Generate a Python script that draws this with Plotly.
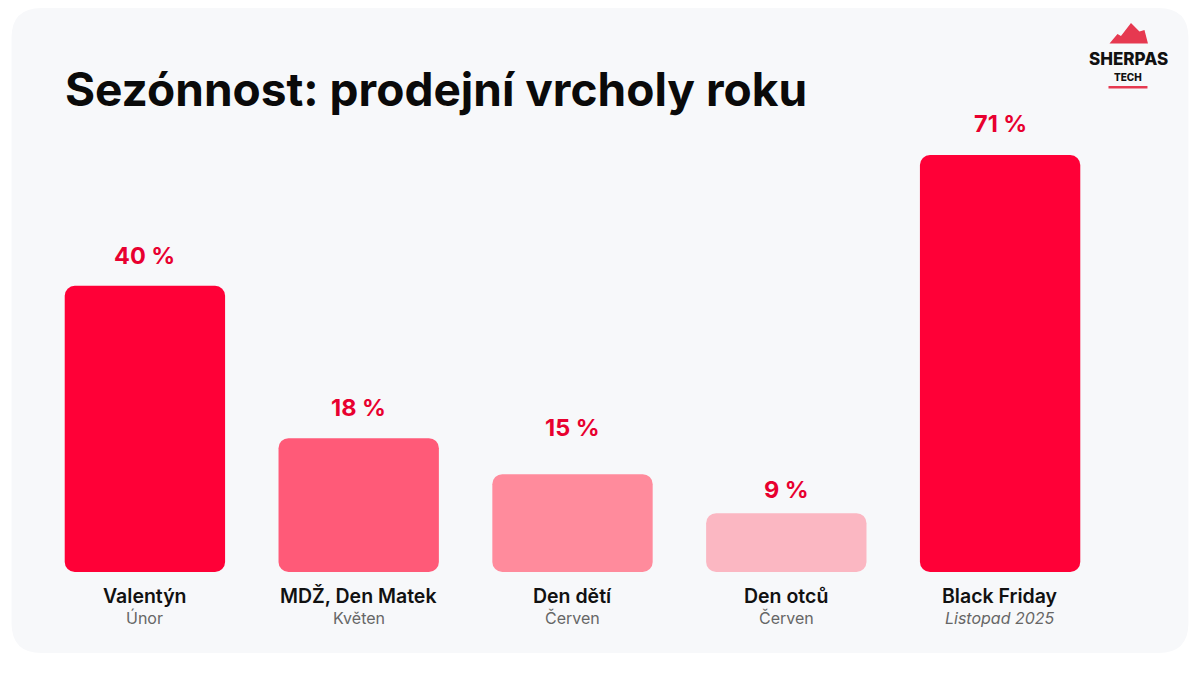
import plotly.graph_objects as go

categories = ["Valentýn", "MDŽ, Den Matek", "Den dětí", "Den otců", "Black Friday"]
months = ["Únor", "Květen", "Červen", "Červen", "<i>Listopad 2025</i>"]
share_pct = [40, 18, 15, 9, 71]
# heights of the bars as drawn in the reference (not to scale with the %)
bar_height = [45.7, 20.3, 14.3, 7.8, 67.5]
bar_colors = ["#ff0037", "#ff5a78", "#ff8b9c", "#fbb7c2", "#ff0037"]

W, H = 1200, 675
L, R, T, B = 37.5, 92.5, 60, 75
PW, PH = W - L - R, H - T - B
FONT = "Inter"
RED = "#e8002f"
# gap (px) between bar top and its % label, the source isn't consistent
label_gap = [14, 14, 30, 7.5, 15]


def px(x):
    return (x - L) / PW


def py(y):
    return 1 - (y - T) / PH


def rounded_rect(x0, y0, x1, y1, r):
    return (f"M{px(x0 + r)},{py(y0)} L{px(x1 - r)},{py(y0)} "
            f"Q{px(x1)},{py(y0)} {px(x1)},{py(y0 + r)} "
            f"L{px(x1)},{py(y1 - r)} Q{px(x1)},{py(y1)} {px(x1 - r)},{py(y1)} "
            f"L{px(x0 + r)},{py(y1)} Q{px(x0)},{py(y1)} {px(x0)},{py(y1 - r)} "
            f"L{px(x0)},{py(y0 + r)} Q{px(x0)},{py(y0)} {px(x0 + r)},{py(y0)} Z")


x = list(range(len(categories)))

fig = go.Figure()
fig.add_trace(go.Bar(
    x=x, y=bar_height, width=0.75,
    marker=dict(color=bar_colors, line_width=0, cornerradius=10),
    hoverinfo="skip", showlegend=False,
))
# short foot below zero so the bottom corners get rounded too
fig.add_trace(go.Bar(
    x=x, y=[-2] * len(x), width=0.75,
    marker=dict(color=bar_colors, line_width=0, cornerradius=10),
    hoverinfo="skip", showlegend=False,
))

annotations = []
for i, cat in enumerate(categories):
    annotations.append(dict(
        x=i, y=bar_height[i], xref="x", yref="y", yanchor="bottom",
        yshift=label_gap[i], showarrow=False, text=f"{share_pct[i]} %",
        font=dict(family=FONT, size=23.5, color=RED, weight=700),
    ))
    annotations.append(dict(
        x=i, y=-2, xref="x", yref="y", yanchor="top", yshift=-10,
        showarrow=False, text=cat,
        font=dict(family=FONT, size=19.5, color="#111111", weight=600),
    ))
    annotations.append(dict(
        x=i, y=-2, xref="x", yref="y", yanchor="top", yshift=-34,
        showarrow=False, text=months[i],
        font=dict(family=FONT, size=16, color="#666666"),
    ))

# title
annotations.append(dict(
    x=px(63), y=py(88.5), xref="paper", yref="paper", xanchor="left",
    yanchor="middle", showarrow=False, text="Sezónnost: prodejní vrcholy roku",
    font=dict(family=FONT, size=46, color="#0a0a0a", weight=700),
))
# logo text
annotations.append(dict(
    x=px(1129), y=py(59), xref="paper", yref="paper", xanchor="center",
    yanchor="middle", showarrow=False, text="SHERPAS",
    font=dict(family=FONT, size=17, color="#111111", weight=800),
))
annotations.append(dict(
    x=px(1128.5), y=py(76.5), xref="paper", yref="paper", xanchor="center",
    yanchor="middle", showarrow=False, text="TECH",
    font=dict(family=FONT, size=10, color="#111111", weight=800),
))

mountain = [(1110, 43.5), (1118, 34), (1121.5, 36), (1131.5, 23), (1140, 31.5),
            (1145, 30), (1148.5, 43.5)]
mountain_path = "M" + " L".join(f"{px(a)},{py(b)}" for a, b in mountain) + " Z"

shapes = [
    dict(type="path", xref="paper", yref="paper", layer="below",
         path=rounded_rect(11, 8, 1189, 653, 30),
         fillcolor="#f7f8fa", line_width=0),
    dict(type="path", xref="paper", yref="paper", path=mountain_path,
         fillcolor="#e63950", line_width=0),
    dict(type="rect", xref="paper", yref="paper", x0=px(1109), x1=px(1148),
         y0=py(88.5), y1=py(86), fillcolor="#e63950", line_width=0),
]

fig.update_layout(
    width=W, height=H,
    margin=dict(l=L, r=R, t=T, b=B),
    barmode="relative",
    paper_bgcolor="white",
    plot_bgcolor="rgba(0,0,0,0)",
    xaxis=dict(range=[-0.5, 4.5], visible=False, fixedrange=True),
    yaxis=dict(range=[-6.67, 83.33], visible=False, fixedrange=True),
    shapes=shapes,
    annotations=annotations,
    font=dict(family=FONT),
)

fig.write_html("out.html", config=dict(displayModeBar=False),
               post_script="document.body.style.margin='0';")
